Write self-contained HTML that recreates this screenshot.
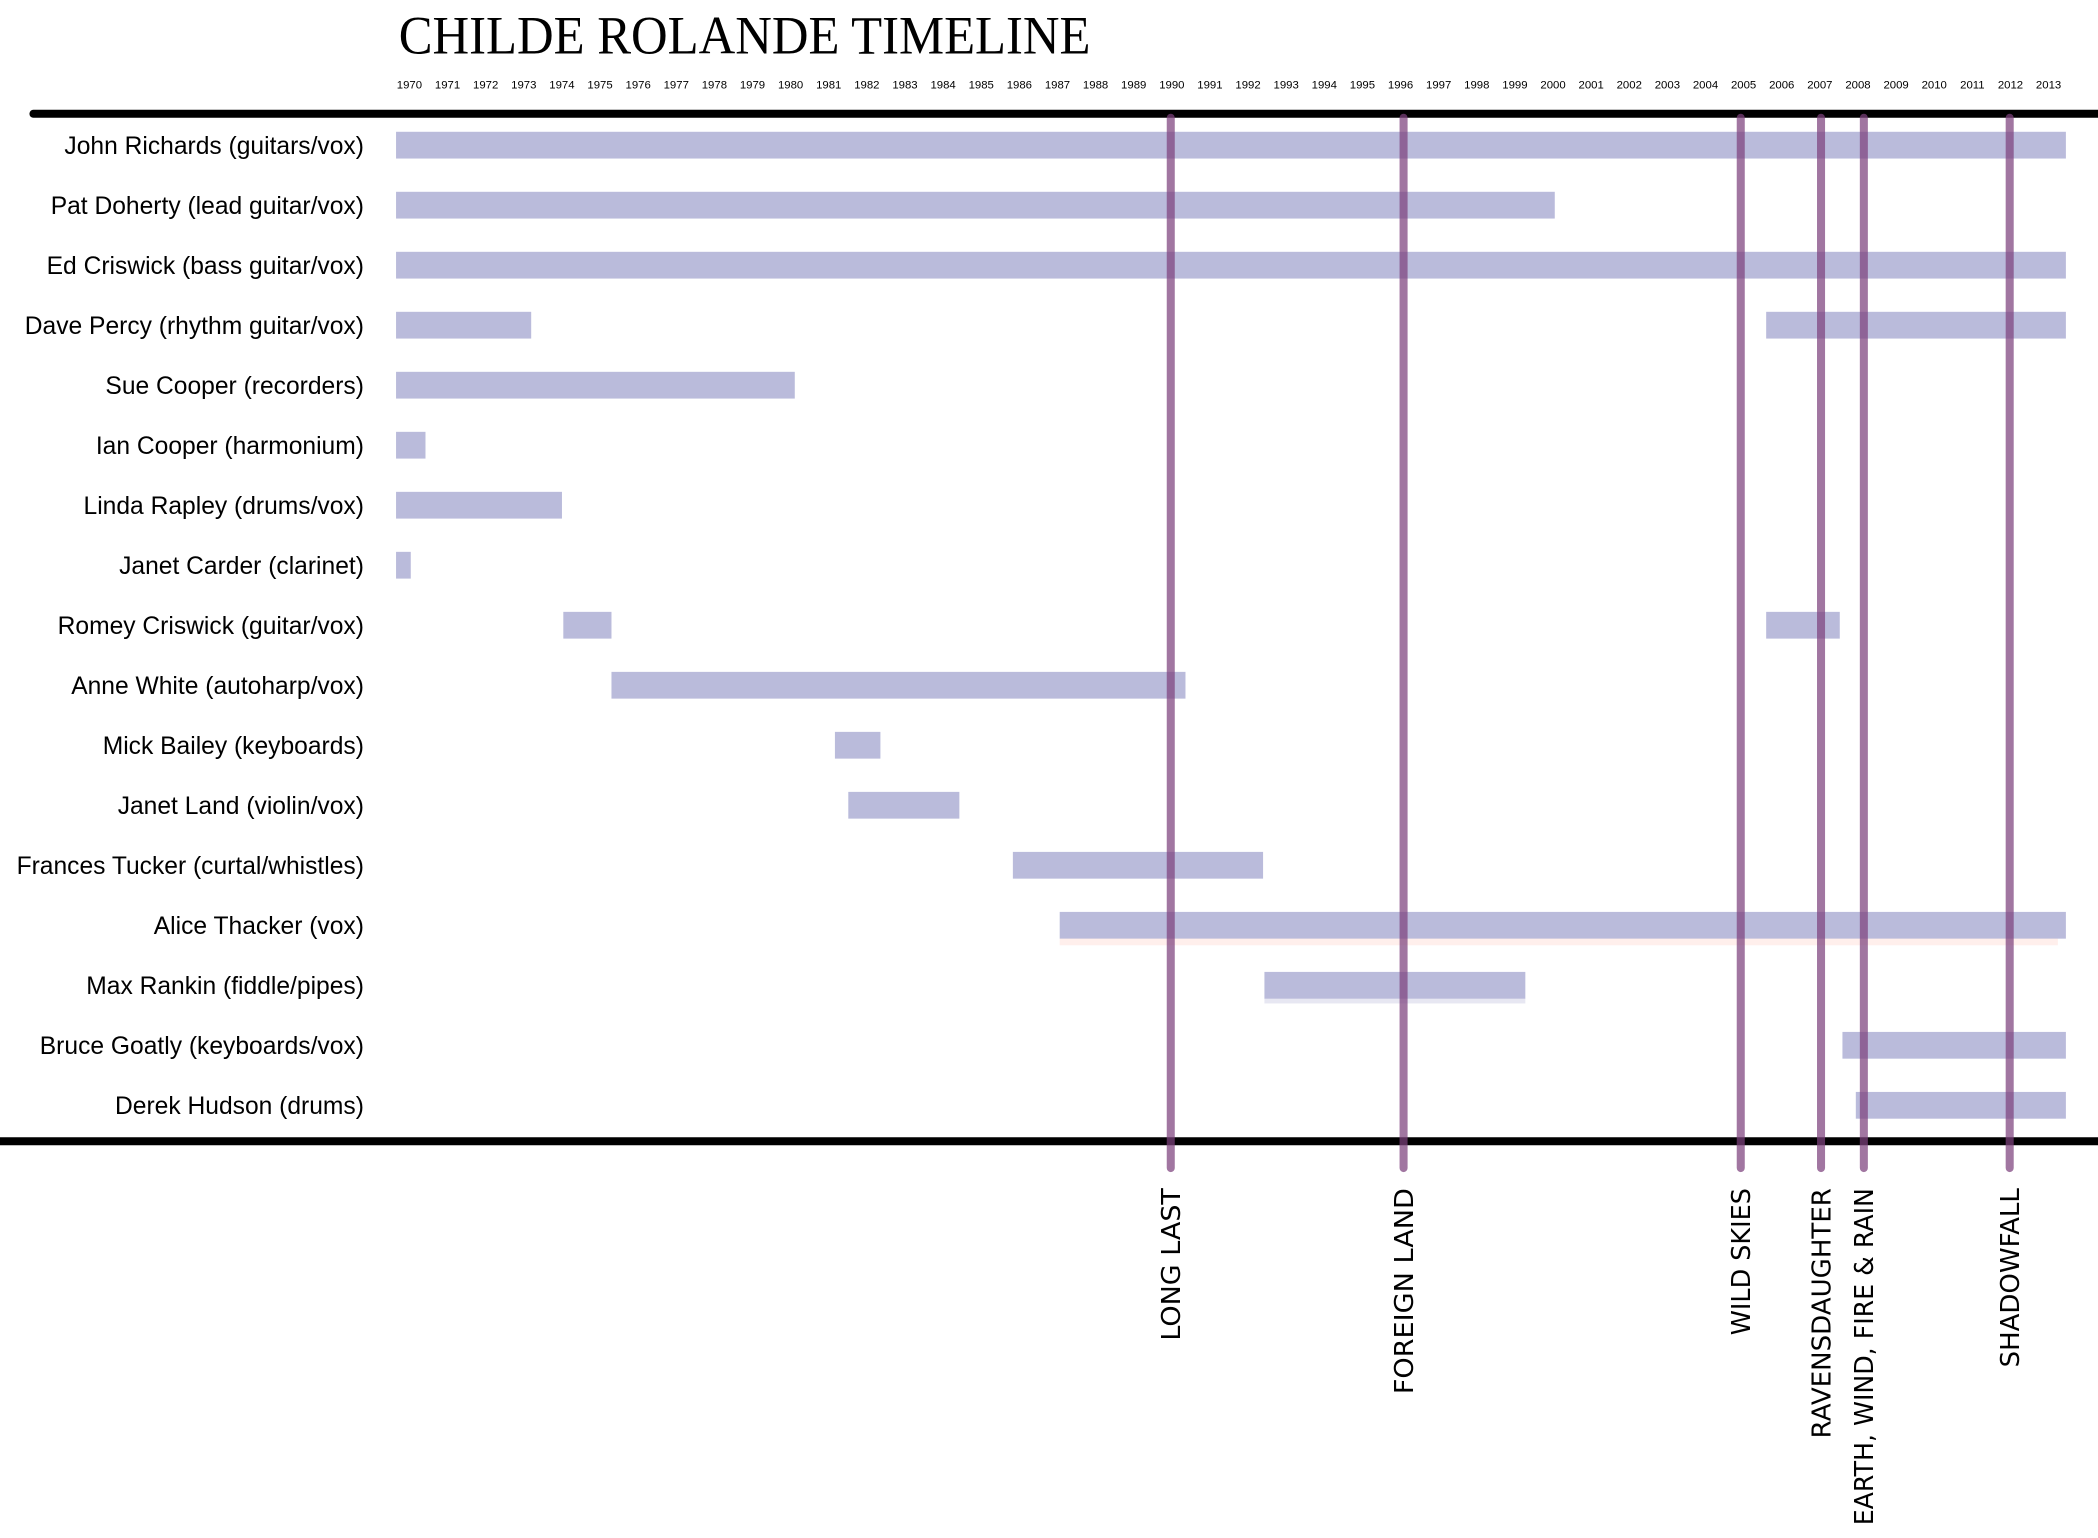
<!DOCTYPE html>
<html><head><meta charset="utf-8"><style>html,body{margin:0;padding:0;background:#fff}svg{display:block}</style></head>
<body>
<svg width="2098" height="1538" viewBox="0 0 1568 1149.5" preserveAspectRatio="none" xmlns="http://www.w3.org/2000/svg">
<rect width="1568" height="1149.5" fill="#fff"/>
<text x="298" y="40" font-family="Liberation Serif, serif" font-size="40" textLength="517" lengthAdjust="spacingAndGlyphs">CHILDE ROLANDE TIMELINE</text>
<g font-family="Liberation Sans, sans-serif" font-size="8.5" text-anchor="middle" id="yrs"></g>
<line x1="25" y1="85" x2="1568" y2="85" stroke="#000" stroke-width="6" stroke-linecap="round"/>
<line x1="0" y1="853" x2="1568" y2="853" stroke="#000" stroke-width="6"/>
<g fill="#babbdb" id="bars"></g>
<g font-family="Liberation Sans, sans-serif" font-size="18.4" text-anchor="end" fill="#000" id="names"></g>
<g stroke="rgba(125,65,125,0.72)" stroke-width="6" stroke-linecap="round" id="vl"></g>
<g font-family="DejaVu Sans, sans-serif" font-size="19" text-anchor="end" id="lbl"></g>
</svg>
<script>
var NS="http://www.w3.org/2000/svg";
function el(t,a,p,txt){var e=document.createElementNS(NS,t);for(var k in a)e.setAttribute(k,a[k]);if(txt)e.textContent=txt;document.getElementById(p).appendChild(e);return e;}
for(var i=0;i<44;i++){el('text',{x:306+i*28.49,y:66},'yrs',String(1970+i));}
var rows=[["John Richards (guitars/vox)",[[296,1544]]],["Pat Doherty (lead guitar/vox)",[[296,1162]]],["Ed Criswick (bass guitar/vox)",[[296,1544]]],["Dave Percy (rhythm guitar/vox)",[[296,397],[1320,1544]]],["Sue Cooper (recorders)",[[296,594]]],["Ian Cooper (harmonium)",[[296,318]]],["Linda Rapley (drums/vox)",[[296,420]]],["Janet Carder (clarinet)",[[296,307]]],["Romey Criswick (guitar/vox)",[[421,457],[1320,1375]]],["Anne White (autoharp/vox)",[[457,886]]],["Mick Bailey (keyboards)",[[624,658]]],["Janet Land (violin/vox)",[[634,717]]],["Frances Tucker (curtal/whistles)",[[757,944]]],["Alice Thacker (vox)",[[792,1544]]],["Max Rankin (fiddle/pipes)",[[945,1140]]],["Bruce Goatly (keyboards/vox)",[[1377,1544]]],["Derek Hudson (drums)",[[1387,1544]]]];
rows.forEach(function(r,i){var cy=108.5+i*44.85;el('text',{x:272,y:cy+6.5},'names',r[0]);r[1].forEach(function(b){el('rect',{x:b[0],y:cy-10,width:b[1]-b[0],height:20},'bars');});});
el('rect',{x:792,y:701.5,width:746,height:5,fill:"rgba(255,190,180,0.25)"},'bars');
el('rect',{x:945,y:746,width:195,height:4,fill:"rgba(186,187,219,0.35)"},'bars');
var vs=[[875,"LONG LAST",114],[1049,"FOREIGN LAND",154],[1301,"WILD SKIES",110],[1361,"RAVENSDAUGHTER",187],[1393,"EARTH, WIND, FIRE & RAIN",252],[1502,"SHADOWFALL",134]];
vs.forEach(function(v){el('line',{x1:v[0],y1:88,x2:v[0],y2:873},'vl');el('text',{x:0,y:0,textLength:v[2],lengthAdjust:"spacingAndGlyphs",transform:"translate("+(v[0]+7)+",888) rotate(-90)"},'lbl',v[1]);});
</script>
</body></html>
